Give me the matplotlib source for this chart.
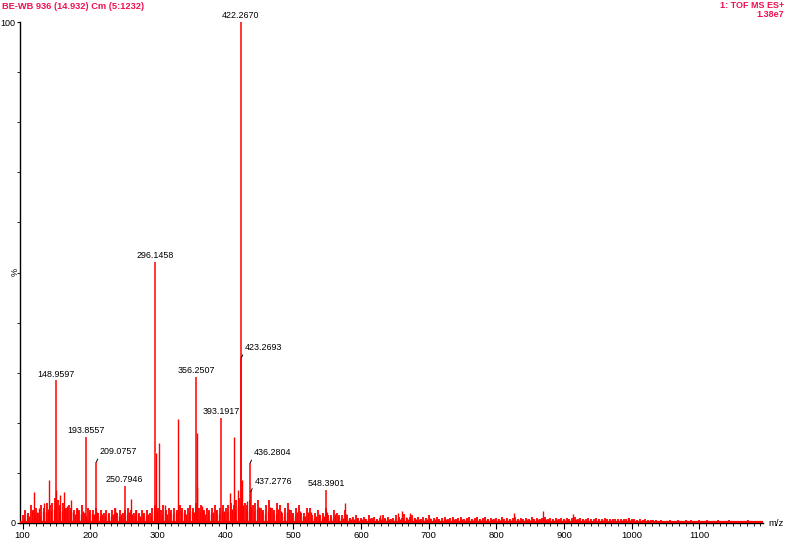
import numpy as np
import matplotlib.pyplot as plt

plt.rcParams['font.family'] = ['Liberation Sans', 'DejaVu Sans']

# labelled peaks (m/z, relative intensity %)
label_mz = [148.9597, 193.8557, 209.0757, 250.7946, 296.1458, 356.2507,
            393.1917, 422.2670, 423.2693, 436.2804, 437.2776, 548.3901]
label_h = [28.5, 17.2, 12.2, 7.4, 52.1, 29.2, 21.0, 100.0, 33.0, 12.0, 6.3, 6.6]
# labels drawn with a small leader line
leader = [209.0757, 423.2693, 436.2804, 437.2776]

# other visible peaks
peak_mz = [116.5, 124, 132, 138.7, 150.0, 156, 161, 165, 171, 181, 236, 260, 268,
           297.15, 301, 310, 330, 357.25, 358.25, 364.7, 407, 413, 418, 424.27,
           431, 577, 628, 655, 660, 672, 826, 868.6, 912.7, 994]
peak_h = [6.2, 3.0, 4.0, 8.6, 6.6, 5.6, 6.2, 3.3, 4.6, 3.0, 3.0, 4.8, 2.6,
          14.0, 16.0, 3.6, 20.8, 7.2, 18.0, 3.3, 6.0, 17.2, 6.6, 8.5,
          4.3, 4.0, 1.5, 2.0, 2.3, 1.9, 2.0, 2.4, 1.7, 0.9]

# background "grass", one value per 4 m/z starting at 100
grass_h = [
    1.5, 2.5, 2.0, 3.5, 2.5, 3.0, 2.0, 3.5, 3.0, 4.0,
    3.5, 4.0, 5.0, 4.5, 3.5, 4.0, 3.0, 3.5, 3.0, 2.5,
    3.0, 2.5, 3.5, 2.0, 3.0, 2.5, 2.5, 3.0, 2.0, 2.5,
    2.0, 2.5, 2.0, 2.5, 3.0, 2.0, 2.5, 2.0, 2.5, 3.0,
    2.5, 2.0, 2.5, 2.0, 2.5, 2.0, 2.5, 2.0, 3.0, 3.5,
    3.0, 2.5, 3.5, 2.5, 3.0, 2.5, 3.0, 2.5, 3.5, 3.0,
    2.5, 3.0, 3.5, 3.0, 4.0, 3.0, 3.5, 2.5, 3.0, 2.5,
    3.0, 3.5, 2.5, 3.0, 3.5, 3.0, 3.5, 4.0, 3.5, 4.5,
    5.0, 5.0, 4.0, 3.5, 4.5, 3.5, 4.0, 4.5, 3.0, 2.5,
    3.5, 4.5, 3.0, 2.5, 4.0, 3.5, 2.0, 3.0, 4.0, 2.5,
    2.0, 3.0, 3.5, 2.0, 2.0, 3.0, 3.0, 1.5, 2.0, 2.5,
    1.5, 2.0, 3.0, 1.5, 1.5, 2.5, 2.0, 1.5, 1.5, 2.5,
    1.5, 1.0, 1.2, 1.5, 1.0,
    1.0, 1.2, 0.8, 1.5, 1.0, 1.2, 0.8, 1.0, 1.5, 1.0,
    1.2, 0.8, 1.0, 1.5, 1.2, 1.0, 1.8, 1.0, 1.2, 1.5,
    1.0, 1.2, 0.8, 1.2, 1.0, 1.5, 0.8, 1.0, 1.2, 0.8,
    1.0, 1.2, 0.8, 1.0, 1.2, 0.8, 1.0, 1.2, 0.8, 1.0,
    1.2, 0.8, 1.0, 1.2, 0.8, 1.0, 1.2, 0.8, 1.0, 0.8,
    1.0, 0.8, 1.2, 0.8, 1.0, 0.8, 1.0, 1.2, 0.8, 1.0,
    0.8, 1.0, 0.8, 1.2, 0.8, 1.0, 0.8, 1.0, 1.2, 0.8,
    1.0, 0.8, 1.0, 0.8, 1.0, 0.8, 1.0, 0.8, 1.0, 1.2,
    0.8, 1.0, 0.8, 0.7, 0.9, 0.7, 0.8, 0.9, 0.7, 0.8,
    0.9, 0.7, 0.8, 0.7, 0.8, 0.7, 0.8, 0.7, 0.8, 0.9,
    0.8, 0.7, 0.6, 0.7, 0.6, 0.7, 0.6, 0.5, 0.6, 0.5,
    0.4, 0.5, 0.4, 0.4, 0.5, 0.4, 0.4, 0.5, 0.4, 0.4,
    0.5, 0.4, 0.6, 0.4, 0.4, 0.5, 0.4, 0.4, 0.5, 0.4,
    0.4, 0.4, 0.5, 0.4, 0.4, 0.4, 0.5, 0.4, 0.4, 0.4,
    0.4, 0.4, 0.4, 0.5, 0.4, 0.4, 0.4, 0.4,
]
grass_mz = 100 + 4 * np.arange(len(grass_h))

title_txt = 'BE-WB 936 (14.932) Cm (5:1232)'
info_txt = ['1: TOF MS ES+', '1.38e7']
red = '#ff0000'
pink = '#f01050'

fig = plt.figure(figsize=(7.87, 5.39), dpi=100)
ax = fig.add_axes([19.5 / 787, 16 / 539, (763 - 19.5) / 787, (523 - 22) / 539])

ax.vlines(grass_mz, 0, grass_h, color=red, lw=1.3)
ax.vlines(grass_mz + 2, 0, np.array(grass_h) * 0.7, color=red, lw=1.0)
ax.vlines(peak_mz, 0, peak_h, color=red, lw=1.0)
ax.vlines(label_mz, 0, label_h, color=red, lw=1.1)
ax.axhline(0.25, color=red, lw=1.6, zorder=3)

for m, h in zip(label_mz, label_h):
    s = '%.4f' % m
    if m in leader:
        ax.annotate(s, xy=(m, h), xytext=(2.5, 4.0), textcoords='offset points',
                    ha='left', va='bottom', fontsize=6.4, annotation_clip=False,
                    arrowprops=dict(arrowstyle='-', lw=0.7, color='black',
                                    shrinkA=0, shrinkB=0, relpos=(0.0, 0.15)))
    else:
        ax.annotate(s, xy=(m, h), xytext=(0, 1.2), textcoords='offset points',
                    ha='center', va='bottom', fontsize=6.4, annotation_clip=False)

ax.set_xlim(95.5, 1194)
ax.set_ylim(0, 100)
ax.spines['top'].set_visible(False)
ax.spines['right'].set_visible(False)
ax.spines['left'].set_linewidth(1.0)
ax.spines['bottom'].set_linewidth(1.0)

ax.set_xticks(np.arange(100, 1101, 100))
ax.set_xticks(np.arange(100, 1191, 10), minor=True)
ax.set_yticks([0, 100])
ax.set_yticks(np.arange(0, 101, 10), minor=True)
ax.tick_params(axis='x', which='major', length=4, width=0.8, labelsize=6.8, pad=1.5)
ax.tick_params(axis='y', which='major', length=2.5, width=0.8, labelsize=6.5, pad=0.5)
ax.tick_params(which='minor', length=2.5, width=0.6)

fig.text(2 / 787, 1 - 2 / 539, title_txt, color=pink, fontsize=6.7,
         fontweight='bold', ha='left', va='top')
fig.text(784 / 787, 1 - 1 / 539, info_txt[0], color=pink, fontsize=6.5,
         fontweight='bold', ha='right', va='top')
fig.text(784 / 787, 1 - 10 / 539, info_txt[1], color=pink, fontsize=6.5,
         fontweight='bold', ha='right', va='top')
fig.text(15 / 787, 1 - 272 / 539, '%', fontsize=6.5, rotation=90,
         ha='center', va='center')
fig.text(768 / 787, 1 - 523 / 539, 'm/z', fontsize=6.8, ha='left', va='center')

fig.savefig('out.png', dpi=100)
